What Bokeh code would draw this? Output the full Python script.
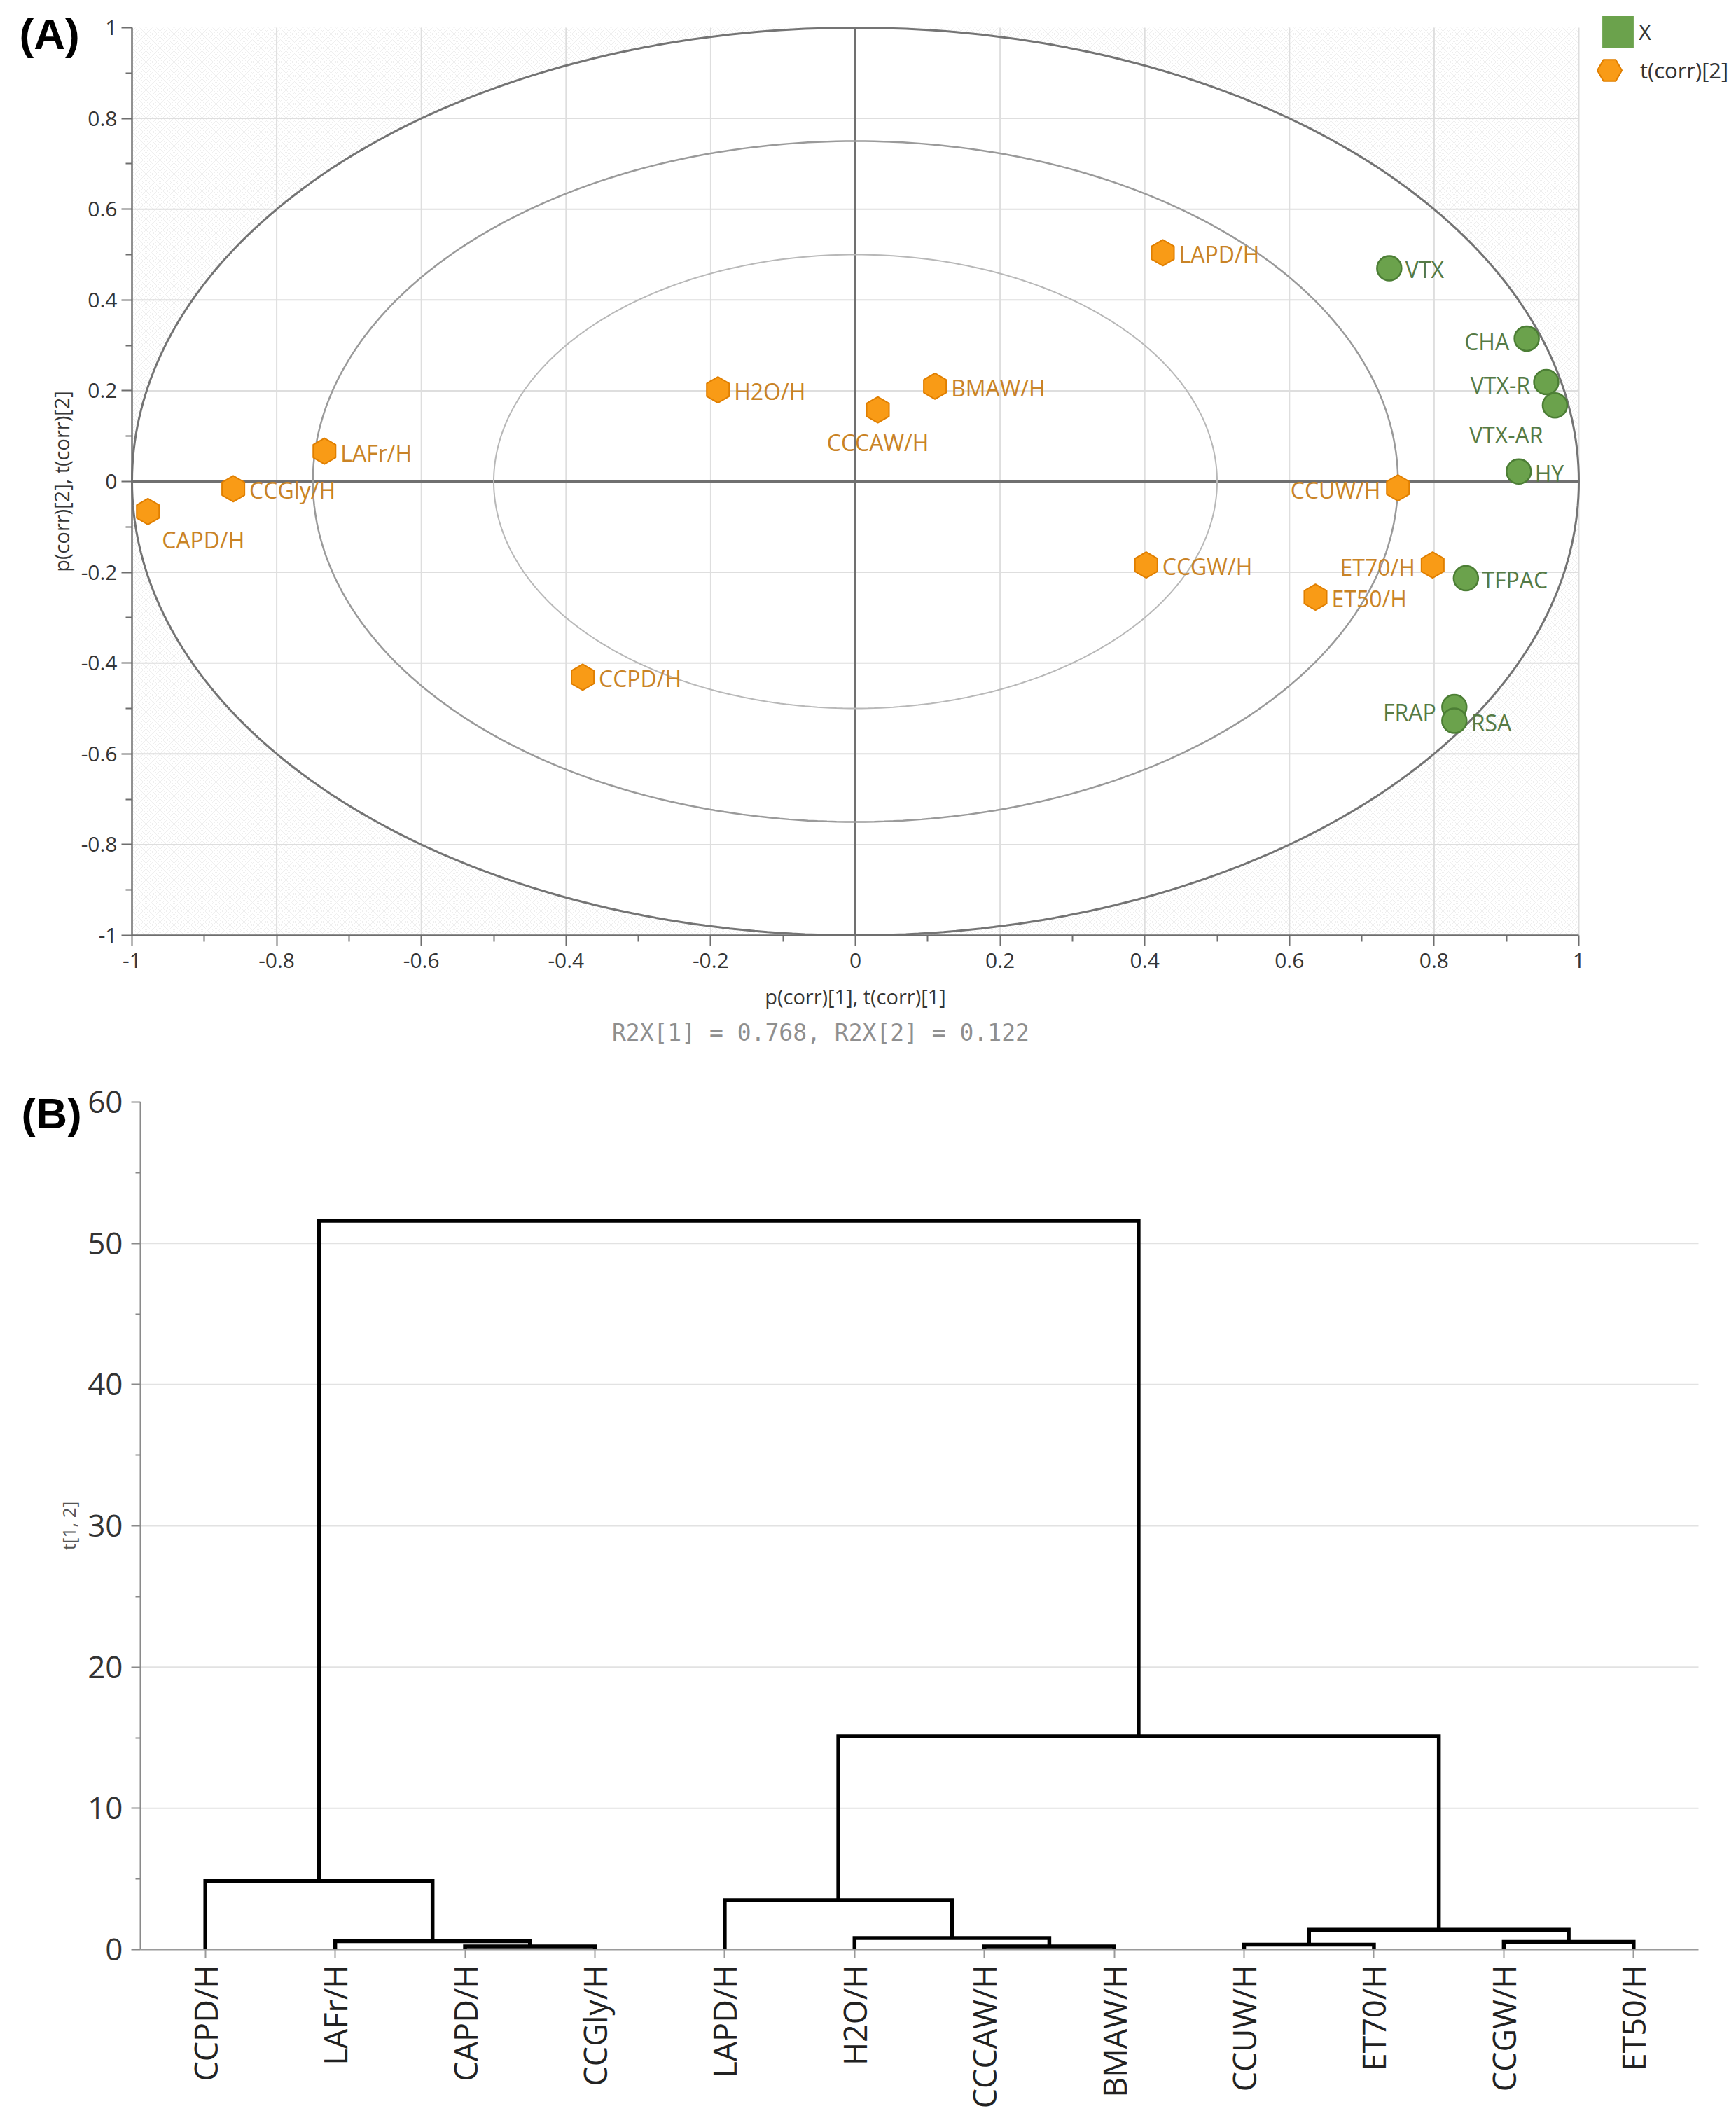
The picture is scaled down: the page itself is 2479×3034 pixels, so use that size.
import numpy as np
from bokeh.plotting import figure
from bokeh.models import (ColumnDataSource, Range1d, FixedTicker, NumeralTickFormatter,
                          Legend, LegendItem, Label)
from bokeh.layouts import column
from bokeh.embed import file_html
from bokeh.resources import INLINE
from bokeh.core.properties import value

# ---------------- (A) correlation-scaled biplot ----------------
obs_names = ["CAPD/H", "CCGly/H", "LAFr/H", "H2O/H", "CCCAW/H", "BMAW/H",
             "LAPD/H", "CCUW/H", "CCGW/H", "ET70/H", "ET50/H", "CCPD/H"]
obs_t1 = [-0.978, -0.860, -0.734, -0.190, 0.031, 0.110,
          0.425, 0.750, 0.402, 0.798, 0.636, -0.377]
obs_t2 = [-0.066, -0.016, 0.067, 0.202, 0.158, 0.210,
          0.504, -0.014, -0.184, -0.184, -0.255, -0.431]

var_names = ["VTX", "CHA", "VTX-R", "VTX-AR", "HY", "TFPAC", "FRAP", "RSA"]
var_p1 = [0.738, 0.928, 0.955, 0.967, 0.917, 0.844, 0.828, 0.828]
var_p2 = [0.470, 0.315, 0.219, 0.168, 0.022, -0.213, -0.497, -0.527]

circle_radii = [1.0, 0.75, 0.5]
r2x = [0.768, 0.122]

ticks_a = [-1, -0.8, -0.6, -0.4, -0.2, 0, 0.2, 0.4, 0.6, 0.8, 1]
minor_ticks_a = [-0.9, -0.7, -0.5, -0.3, -0.1, 0.1, 0.3, 0.5, 0.7, 0.9]

# ---------------- (B) dendrogram ----------------
leaf_names = ["CCPD/H", "LAFr/H", "CAPD/H", "CCGly/H", "LAPD/H", "H2O/H",
              "CCCAW/H", "BMAW/H", "CCUW/H", "ET70/H", "CCGW/H", "ET50/H"]
# children 0-11 are leaves, 12+ refer to earlier merges (in order)
merge_left = [2, 6, 8, 10, 1, 5, 14, 0, 4, 20, 19]
merge_right = [3, 7, 9, 11, 12, 13, 15, 16, 17, 18, 21]
merge_height = [0.22, 0.22, 0.35, 0.55, 0.6, 0.82, 1.4, 4.85, 3.5, 15.1, 51.6]
ticks_b = [0, 10, 20, 30, 40, 50, 60]
minor_ticks_b = [5, 15, 25, 35, 45, 55]

ORANGE, ORANGE_EDGE, ORANGE_TXT = "#F99B16", "#E07F00", "#C98326"
GREEN, GREEN_EDGE, GREEN_TXT = "#6BA24C", "#4C7E35", "#557A45"
FONT = "Open Sans"

W = 2479
HA, HB = 1500, 1534

# page layout of panel A (pixels): plot box edges
A_LEFT, A_RIGHT, A_TOP, A_BOTTOM = 188, 2254, 39, 1335
lo, hi = ticks_a[0], ticks_a[-1]
ax_k = (A_RIGHT - A_LEFT) / (hi - lo)
ay_k = (A_BOTTOM - A_TOP) / (hi - lo)
ax_range = Range1d(lo - A_LEFT / ax_k, hi + (W - A_RIGHT) / ax_k)
ay_range = Range1d(lo - (HA - A_BOTTOM) / ay_k, hi + A_TOP / ay_k)


def style_axis(ax, color, tick_out, minor_out, size, label_color):
    ax.axis_line_color = color
    ax.axis_line_width = 2.5
    ax.major_tick_line_color = color
    ax.minor_tick_line_color = color
    ax.major_tick_line_width = 2
    ax.minor_tick_line_width = 2
    ax.major_tick_in = 0
    ax.minor_tick_in = 0
    ax.major_tick_out = tick_out
    ax.minor_tick_out = minor_out
    ax.major_label_text_font = FONT
    ax.major_label_text_font_size = size
    ax.major_label_text_color = label_color
    ax.axis_label_text_font = FONT
    ax.axis_label_text_font_style = "normal"


# ======================= panel A =======================
pa = figure(width=W, height=HA, x_range=ax_range, y_range=ay_range,
            output_backend="svg", toolbar_location=None,
            min_border_left=0, min_border_right=0, min_border_top=0,
            min_border_bottom=0)
pa.outline_line_color = None
pa.xgrid.visible = False
pa.ygrid.visible = False

xa_a, ya_a = pa.xaxis[0], pa.yaxis[0]
for ax in (xa_a, ya_a):
    ax.ticker = FixedTicker(ticks=ticks_a, minor_ticks=minor_ticks_a)
    ax.formatter = NumeralTickFormatter(format="0.[0]")
    ax.fixed_location = lo
    ax.bounds = (lo, hi)
    style_axis(ax, "#6e6e6e", 15, 9, "30px", "#363636")
    ax.axis_label_text_font_size = "29px"
    ax.axis_label_text_color = "#363636"
xa_a.axis_label = "p(corr)[1], t(corr)[1]"
ya_a.axis_label = "p(corr)[2], t(corr)[2]"
xa_a.major_label_standoff = 10
ya_a.major_label_standoff = 6
xa_a.axis_label_standoff = 18
ya_a.axis_label_standoff = 6

# shaded region outside the unit circle
theta = np.linspace(0, 2 * np.pi, 361)
hole_x = list(np.cos(theta) * circle_radii[0])
hole_y = list(np.sin(theta) * circle_radii[0])
pa.multi_polygons(xs=[[[[lo, hi, hi, lo], hole_x]]],
                  ys=[[[[lo, lo, hi, hi], hole_y]]],
                  fill_color="white", line_color=None,
                  hatch_pattern="diagonal_cross", hatch_color="#efefef",
                  hatch_scale=8, hatch_weight=1)

# grid lines inside the plot box
gx = ticks_a[1:]
gy = ticks_a[1:-1]
pa.segment(x0=gx, y0=[lo] * len(gx), x1=gx, y1=[hi] * len(gx),
           line_color="#dedede", line_width=2)
pa.segment(x0=[lo] * len(gy), y0=gy, x1=[hi] * len(gy), y1=gy,
           line_color="#dedede", line_width=2)
# zero lines
pa.segment(x0=[lo, 0], y0=[0, lo], x1=[hi, 0], y1=[0, hi],
           line_color="#707070", line_width=3)

ring_xs = [list(np.cos(theta) * r) for r in circle_radii]
ring_ys = [list(np.sin(theta) * r) for r in circle_radii]
pa.multi_line(xs=ring_xs, ys=ring_ys,
              line_color=["#747474", "#9a9a9a", "#b8b8b8"],
              line_width=[3, 2.5, 2])

src_obs = ColumnDataSource(dict(x=obs_t1, y=obs_t2, name=obs_names))
r_obs = pa.scatter("x", "y", source=src_obs, marker="hex", size=37, angle=np.pi / 2,
                   fill_color=ORANGE, line_color=ORANGE_EDGE, line_width=2)

src_var = ColumnDataSource(dict(x=var_p1, y=var_p2, name=var_names))
pa.scatter("x", "y", source=src_var, marker="circle", size=35,
           fill_color=GREEN, line_color=GREEN_EDGE, line_width=2.5)

# label placement: (align, dx, dy) in pixels
default_place = ("left", 23, 2)
obs_place = {"CAPD/H": ("left", 20, 40), "CCCAW/H": ("center", 0, 46),
             "CCUW/H": ("right", -25, 3), "ET70/H": ("right", -25, 3)}
var_place = {"CHA": ("right", -25, 4), "VTX-R": ("right", -23, 4),
             "VTX-AR": ("right", -17, 42), "FRAP": ("right", -26, 7),
             "RSA": ("left", 24, 3)}


def add_labels(names, xs, ys, place, color):
    for align in ("left", "right", "center"):
        d = dict(x=[], y=[], t=[], dx=[], dy=[])
        for n, x, y in zip(names, xs, ys):
            a, dx, dy = place.get(n, default_place)
            if a != align:
                continue
            d["x"].append(x); d["y"].append(y); d["t"].append(n)
            d["dx"].append(dx); d["dy"].append(dy)
        if not d["x"]:
            continue
        pa.text("x", "y", text="t", x_offset="dx", y_offset="dy",
                source=ColumnDataSource(d), text_align=align,
                text_baseline="middle", text_font=value(FONT),
                text_font_size="32px", text_color=color)


add_labels(obs_names, obs_t1, obs_t2, obs_place, ORANGE_TXT)
add_labels(var_names, var_p1, var_p2, var_place, GREEN_TXT)

# legend entries (two keys of different glyph size); the square key has no drawn data
key_src = ColumnDataSource(dict(x=np.array([np.nan]), y=np.array([np.nan]),
                                w=np.array([0.05]), h=np.array([0.05])))
r_key = pa.rect("x", "y", width="w", height="h", source=key_src,
                fill_color=GREEN, line_color=None)
leg1 = Legend(items=[LegendItem(label="X", renderers=[r_key], index=0)],
              location=(2282, HA - 73), glyph_width=56, glyph_height=56,
              padding=0, margin=0, spacing=0, label_standoff=2,
              label_text_font=FONT, label_text_font_size="31px",
              label_text_color="#333333", border_line_color=None,
              background_fill_alpha=0)
leg2 = Legend(items=[LegendItem(label="t(corr)[2]", renderers=[r_obs], index=0)],
              location=(2254, HA - 144), glyph_width=88, glyph_height=88,
              padding=0, margin=0, spacing=0, label_standoff=0,
              label_text_font=FONT, label_text_font_size="31px",
              label_text_color="#333333", border_line_color=None,
              background_fill_alpha=0)
pa.add_layout(leg1)
pa.add_layout(leg2)

pa.add_layout(Label(x=lo - (A_LEFT - 27) / ax_k, y=hi - (48 - A_TOP) / ay_k,
                    text="(A)", text_font="Liberation Sans",
                    text_font_style="bold", text_font_size="62px",
                    text_baseline="middle", text_align="left", text_color="black"))
pa.add_layout(Label(x=-0.048, y=lo - (1474 - A_BOTTOM) / ay_k,
                    text=f"R2X[1] = {r2x[0]}, R2X[2] = {r2x[1]}",
                    text_font="DejaVu Sans Mono", text_font_size="33px",
                    text_baseline="middle", text_align="center", text_color="#8f8f8f"))

# ======================= panel B =======================
n_leaf = len(leaf_names)
B_LEFT, B_RIGHT, B_TOP, B_BOTTOM = 200, 2425, 73, 1283
x_lo, x_hi = -0.5, n_leaf - 0.5
bx_k = (B_RIGHT - B_LEFT) / (x_hi - x_lo)
by_k = (B_BOTTOM - B_TOP) / (ticks_b[-1] - ticks_b[0])
bx_range = Range1d(x_lo - B_LEFT / bx_k, x_hi + (W - B_RIGHT) / bx_k)
by_range = Range1d(ticks_b[0] - (HB - B_BOTTOM) / by_k, ticks_b[-1] + B_TOP / by_k)

pb = figure(width=W, height=HB, x_range=bx_range, y_range=by_range,
            output_backend="svg", toolbar_location=None,
            min_border_left=0, min_border_right=0, min_border_top=0,
            min_border_bottom=0)
pb.outline_line_color = None
pb.xgrid.visible = False
pb.ygrid.visible = False

gb = ticks_b[1:-1]
pb.segment(x0=[x_lo] * len(gb), y0=gb, x1=[x_hi] * len(gb), y1=gb,
           line_color="#e2e2e2", line_width=2)

ya = pb.yaxis[0]
ya.ticker = FixedTicker(ticks=ticks_b, minor_ticks=minor_ticks_b)
ya.fixed_location = x_lo
ya.bounds = (ticks_b[0], ticks_b[-1])
style_axis(ya, "#8a8a8a", 13, 7, "44px", "#333333")
ya.axis_line_width = 2
ya.major_label_standoff = 12
ya.axis_label = "t[1, 2]"
ya.axis_label_text_font_size = "26px"
ya.axis_label_text_color = "#555555"
ya.axis_label_standoff = 6

xa = pb.xaxis[0]
xa.ticker = FixedTicker(ticks=list(range(n_leaf)), minor_ticks=[])
xa.fixed_location = ticks_b[0]
xa.bounds = (x_lo, x_hi)
xa.major_label_overrides = {i: n for i, n in enumerate(leaf_names)}
xa.major_label_orientation = np.pi / 2
style_axis(xa, "#9a9a9a", 12, 0, "45px", "#222222")
xa.axis_line_width = 2
xa.major_label_standoff = 10

# build the dendrogram links from the merge table
node_x = [float(i) for i in range(n_leaf)]
node_h = [0.0] * n_leaf
link_xs, link_ys = [], []
for l, r, h in zip(merge_left, merge_right, merge_height):
    link_xs.append([node_x[l], node_x[l], node_x[r], node_x[r]])
    link_ys.append([node_h[l], h, h, node_h[r]])
    node_x.append((node_x[l] + node_x[r]) / 2)
    node_h.append(h)
pb.multi_line(xs=link_xs, ys=link_ys, line_color="black", line_width=5.5,
              line_join="miter")

pb.add_layout(Label(x=x_lo - (B_LEFT - 30) / bx_k, y=ticks_b[-1] - (89 - B_TOP) / by_k,
                    text="(B)", text_font="Liberation Sans",
                    text_font_style="bold", text_font_size="62px",
                    text_baseline="middle", text_align="left", text_color="black"))

layout = column(pa, pb, spacing=0)
open("out.html", "w").write(file_html(layout, INLINE))
